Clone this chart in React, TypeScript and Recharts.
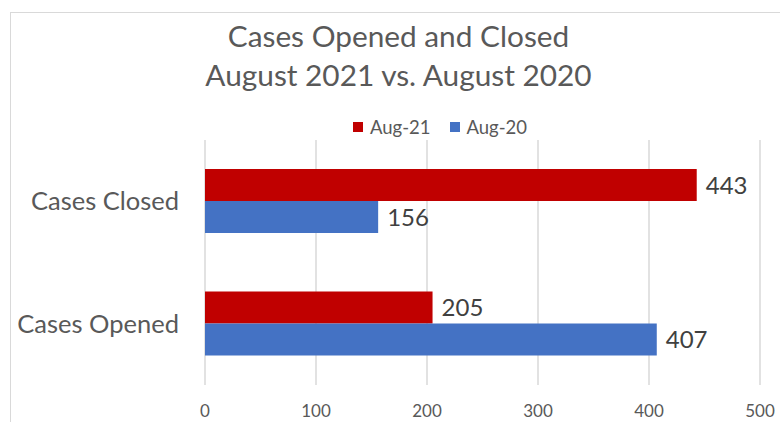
import { Bar, BarChart, CartesianGrid, LabelList, Legend, XAxis, YAxis } from "recharts";

const CATEGORIES = ["Cases Closed", "Cases Opened"];
const AUG_21 = [443, 205];
const AUG_20 = [156, 407];
const X_TICKS = [0, 100, 200, 300, 400, 500];

const RED = "#c00000";
const BLUE = "#4472c4";
const FONT = "Lato, 'Open Sans', sans-serif";

const rows = CATEGORIES.map((category, i) => ({
  category,
  aug21: AUG_21[i],
  aug20: AUG_20[i],
}));

function LegendRow() {
  const items = [
    { label: "Aug-21", color: RED },
    { label: "Aug-20", color: BLUE },
  ];
  return (
    <div style={{ display: "flex", justifyContent: "center", gap: 19, paddingLeft: 100 }}>
      {items.map((it) => (
        <span
          key={it.label}
          style={{ display: "flex", alignItems: "center", gap: 7, fontSize: 18.5, color: "#595959" }}
        >
          <span style={{ width: 10, height: 10, background: it.color, display: "inline-block" }} />
          {it.label}
        </span>
      ))}
    </div>
  );
}

export default function App() {
  return (
    <div
      style={{
        position: "absolute",
        left: 0,
        top: 0,
        width: 780,
        height: 422,
        overflow: "hidden",
        background: "#fff",
        fontFamily: FONT,
      }}
    >
      {/* chart frame, runs off the right and bottom edges */}
      <div
        style={{
          position: "absolute",
          left: 10,
          top: 12,
          width: 820,
          height: 460,
          border: "1.5px solid #d9d9d9",
        }}
      />
      <div
        style={{
          position: "absolute",
          top: 16,
          left: 0,
          width: 797,
          textAlign: "center",
          fontSize: 29.8,
          lineHeight: "39px",
          color: "#595959",
        }}
      >
        Cases Opened and Closed
        <br />
        August 2021 vs. August 2020
      </div>
      <BarChart
        width={780}
        height={422}
        data={rows}
        layout="vertical"
        barGap={0}
        barSize={32}
        margin={{ top: 118, right: 20, bottom: 7, left: 0 }}
      >
        <CartesianGrid horizontal={false} stroke="#d9d9d9" strokeWidth={1.5} />
        <XAxis
          type="number"
          domain={[0, 500]}
          ticks={X_TICKS}
          axisLine={false}
          tickLine={false}
          tickMargin={14}
          height={30}
          tick={{ fontSize: 17, fill: "#595959", fontFamily: FONT }}
        />
        <YAxis
          type="category"
          dataKey="category"
          width={205}
          axisLine={false}
          tickLine={false}
          tickMargin={20}
          tick={{ fontSize: 25.5, fill: "#595959", fontFamily: FONT }}
        />
        <Legend
          verticalAlign="top"
          content={<LegendRow />}
          wrapperStyle={{ top: 116, left: 0, width: 780 }}
        />
        <Bar dataKey="aug21" name="Aug-21" fill={RED} isAnimationActive={false}>
          <LabelList
            dataKey="aug21"
            position="right"
            offset={9}
            style={{ fontSize: 24, fill: "#404040", fontFamily: FONT }}
          />
        </Bar>
        <Bar dataKey="aug20" name="Aug-20" fill={BLUE} isAnimationActive={false}>
          <LabelList
            dataKey="aug20"
            position="right"
            offset={9}
            style={{ fontSize: 24, fill: "#404040", fontFamily: FONT }}
          />
        </Bar>
      </BarChart>
    </div>
  );
}
